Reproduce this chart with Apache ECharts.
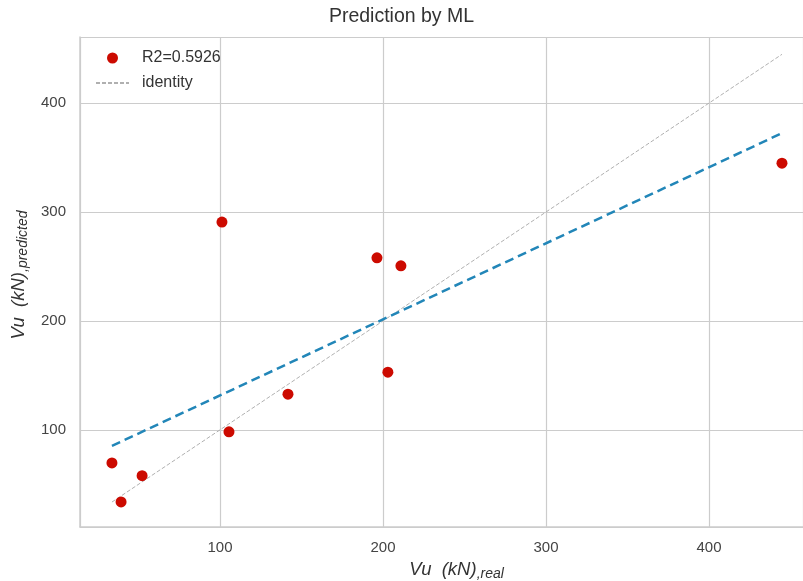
<!DOCTYPE html>
<html><head><meta charset="utf-8">
<script src="https://cdn.jsdelivr.net/npm/echarts@6/dist/echarts.min.js"></script>
<style>html,body{margin:0;padding:0;background:#fff}#c{width:803px;height:581px}</style>
</head><body><div id="c"></div>
<script>
const realValues = [33.7, 39.3, 52.2, 101.2, 105.5, 141.7, 196.3, 211.0, 203.0, 444.8];
const predictedValues = [69.6, 33.8, 57.9, 290.8, 98.2, 132.8, 258.0, 250.6, 153.0, 344.8];
const identityX = [33.7, 444.8];
const identityY = [33.7, 444.8];
const fitX = [33.7, 444.8];
const fitY = [85.3, 372.4];
const scatterName = 'R2=0.5926';
const identityName = 'identity';
const titleText = 'Prediction by ML';

const zip = (a, b) => a.map((v, i) => [v, b[i]]);
const chart = echarts.init(document.getElementById('c'));
const font = 'Liberation Sans, Arial, sans-serif';
const nameRich = {
  i: { fontFamily: font, fontStyle: 'italic', fontSize: 18.5, color: '#333' },
  s: { fontFamily: font, fontStyle: 'italic', fontSize: 14, color: '#333', padding: [9, 0, 0, 0] }
};
chart.setOption({
  animation: false,
  title: { text: titleText, left: 'center', top: 2, textStyle: { fontFamily: font, fontSize: 19.5, fontWeight: 'normal', color: '#333' } },
  legend: {
    data: [
      { name: scatterName, icon: 'circle', itemStyle: { opacity: 1 } },
      { name: identityName, itemStyle: { opacity: 0 } }
    ],
    orient: 'vertical', left: 90, top: 45, itemGap: 9,
    itemWidth: 33, itemHeight: 11,
    textStyle: { fontFamily: font, fontSize: 16, color: '#333', padding: [0, 0, 0, 8] }
  },
  grid: { left: 80, right: 0, top: 37, bottom: 54, show: false, outerBoundsMode: 'none', containLabel: false },
  xAxis: {
    type: 'value', min: 14.1, max: 457.7,
    name: '{i|Vu  (kN)}{s|,real}', nameLocation: 'middle', nameGap: 26,
    nameTextStyle: { rich: nameRich, padding: [0, 0, 0, 30] },
    axisLine: { show: true, lineStyle: { color: '#cccccc', width: 1.5 } },
    axisTick: { show: false },
    axisLabel: { fontFamily: font, fontSize: 15, color: '#444', margin: 13, showMinLabel: false, showMaxLabel: false },
    splitLine: { show: true, lineStyle: { color: '#cccccc', width: 1.2 } }
  },
  yAxis: {
    type: 'value', min: 10.8, max: 460.7,
    name: '{i|Vu  (kN)}{s|,predicted}', nameLocation: 'middle', nameGap: 50, nameRotate: 90,
    nameTextStyle: { rich: nameRich, padding: [0, 0, 0, 14] },
    axisLine: { show: true, lineStyle: { color: '#cccccc', width: 1.5 } },
    axisTick: { show: false },
    axisLabel: { fontFamily: font, fontSize: 15, color: '#444', margin: 14, showMinLabel: false, showMaxLabel: false },
    splitLine: { show: true, lineStyle: { color: '#cccccc', width: 1.2 } }
  },
  series: [
    { name: identityName, type: 'line', data: zip(identityX, identityY), symbol: 'none', z: 2,
      lineStyle: { color: '#b0b0b0', width: 1, type: [4, 2] }, itemStyle: { color: '#b0b0b0' } },
    { name: 'fit', type: 'line', data: zip(fitX, fitY), symbol: 'none', z: 3,
      lineStyle: { color: '#2286b8', width: 2.5, type: [9, 5] } },
    { name: scatterName, type: 'scatter', data: zip(realValues, predictedValues), symbolSize: 11, z: 4,
      itemStyle: { color: '#cc0a00', opacity: 1 } }
  ]
});
</script></body></html>
